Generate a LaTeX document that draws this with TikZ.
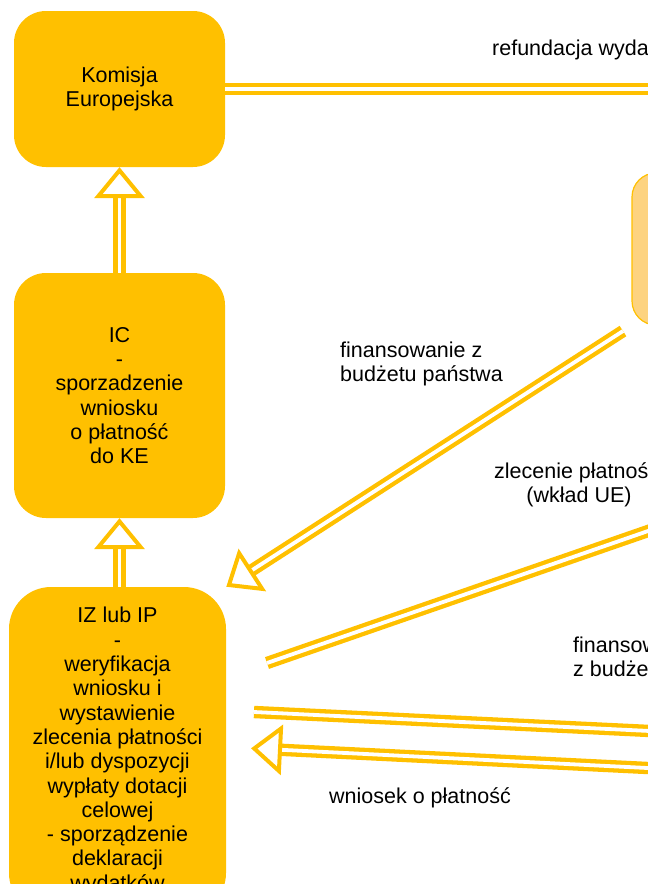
\documentclass[tikz,border=0pt]{standalone}
\usepackage{fontspec}
\setmainfont{Liberation Sans}
\usetikzlibrary{arrows.meta}
\usetikzlibrary{decorations.markings}

\definecolor{gold}{HTML}{FFC000}
\definecolor{paleGold}{HTML}{FDD380}

\tikzset{
	txt/.style={font=\fontsize{21.5}{24.3}\selectfont},
	box/.style={txt, fill=gold, rounded corners=32pt, align=center, inner sep=0pt},
	lbl/.style={txt, inner sep=0pt, align=left},
	pipe/.style={draw=gold, line width=4.3pt, double=white, double distance=3.8pt},
	head/.style={pipe, shorten >=22pt, postaction={decorate},
		decoration={markings, mark=at position 1 with
			{\arrow{Triangle[color=gold, fill=white, length=31pt, width=50pt, line width=4pt]}}}}
}

\begin{document}
\begin{tikzpicture}[x=1pt, y=-1pt]

	\useasboundingbox (0,0) rectangle (648,884);
	\clip (0,0) rectangle (648,884);

	% boxes
	\node [box, minimum width=211pt, minimum height=156pt] (ke) at (119.5,89) {Komisja\\Europejska};
	\node [box, minimum width=211pt, minimum height=245pt] (ic) at (119.5,395.5)
		{IC\\-\\sporzadzenie\\wniosku\\o płatność\\do KE};
	\node [box, rounded corners=42pt, minimum width=217pt, minimum height=328pt] (iz) at (117.5,751)
		{IZ lub IP\\-\\weryfikacja\\wniosku i\\wystawienie\\zlecenia płatności\\i/lub dyspozycji\\wypłaty dotacji\\celowej\\- sporządzenie\\deklaracji\\wydatków};
	\node [draw=gold, fill=paleGold, line width=1.2pt, rounded corners=24pt,
		minimum width=200pt, minimum height=152pt] (bp) at (732,249) {};

	% free ends off the page
	\coordinate (refR) at (700,89);
	\coordinate (zlecR) at (700,513);
	\coordinate (zlecL) at (267,663);
	\coordinate (wydL) at (254,712);
	\coordinate (wydR) at (700,733.4);
	\coordinate (wniR) at (700,770.6);
	\coordinate (wniL) at (251,748.3);

	% connectors
	\draw [head] (ic.north) -- (ke.south);
	\draw [head] (iz.north -| ic.south) -- (ic.south);
	\draw [pipe] (ke.east) -- (refR);
	\draw [head, shorten <=10pt] (bp.south west) -- (iz.north east);
	\draw [pipe] (zlecR) -- (zlecL);
	\draw [pipe] (wydL) -- (wydR);
	\draw [head] (wniR) -- (wniL);

	% labels
	\node [lbl, anchor=west] (refLbl) at (492,50) {refundacja wydatków};
	\node [lbl, anchor=west] (finLbl) at (340,364) {finansowanie z\\budżetu państwa};
	\node [lbl, align=center] (zlecLbl) at (579,485) {zlecenie płatności\\(wkład UE)};
	\node [lbl, anchor=west] (fin2Lbl) at (573,659) {finansowanie\\z budżetu państwa};
	\node [lbl, anchor=west] (wniLbl) at (329,798) {wniosek o płatność};

\end{tikzpicture}
\end{document}
